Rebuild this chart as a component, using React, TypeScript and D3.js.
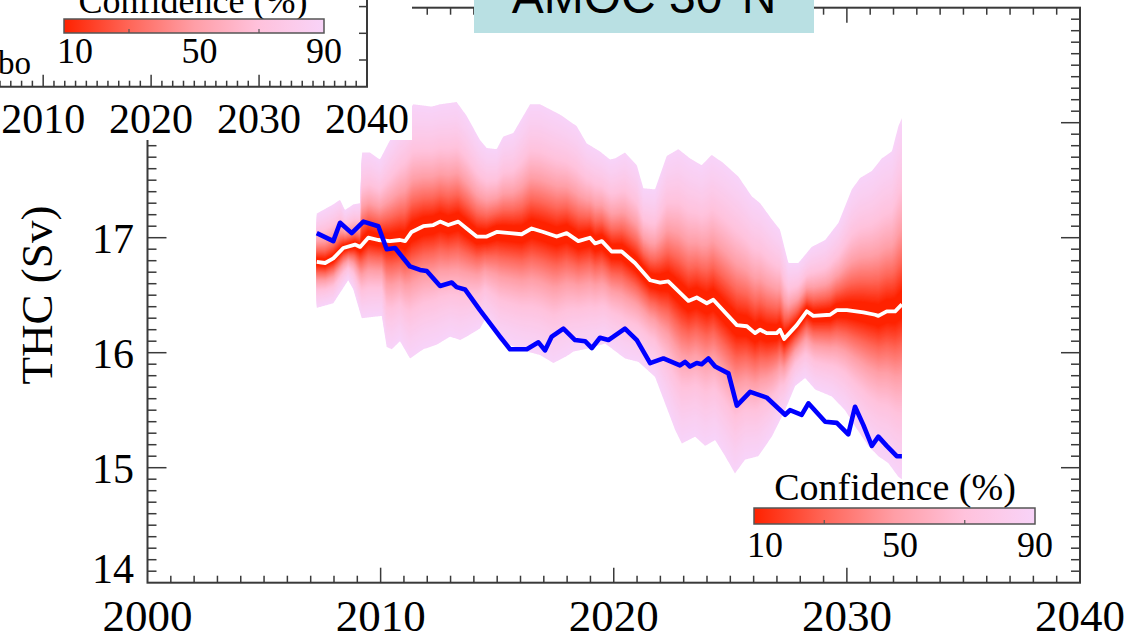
import * as d3 from 'd3';
import React, { useRef, useEffect } from 'react';

const W = 1143;
const H = 642;

// observed THC (blue line)
const obsYears = [2007.26, 2007.97, 2008.26, 2008.76, 2009.26, 2009.9, 2010.26, 2010.62, 2011.26, 2011.69, 2011.98, 2012.55, 2013.05, 2013.26, 2013.62, 2014.26, 2015.12, 2015.55, 2016.27, 2016.77, 2017.05, 2017.34, 2017.84, 2018.34, 2018.77, 2019.06, 2019.41, 2019.77, 2020.48, 2020.99, 2021.56, 2022.13, 2022.84, 2023.06, 2023.27, 2023.56, 2023.77, 2024.06, 2024.35, 2024.92, 2025.28, 2025.85, 2026.56, 2027.35, 2027.56, 2028.06, 2028.35, 2029.07, 2029.57, 2030.06, 2030.35, 2030.71, 2031.07, 2031.35, 2031.71, 2032.14, 2032.36];
const obsValues = [17.04, 16.97, 17.13, 17.04, 17.14, 17.1, 16.9, 16.91, 16.75, 16.72, 16.71, 16.58, 16.61, 16.57, 16.55, 16.37, 16.14, 16.03, 16.03, 16.09, 16.02, 16.14, 16.21, 16.11, 16.1, 16.04, 16.13, 16.11, 16.21, 16.11, 15.91, 15.95, 15.89, 15.92, 15.88, 15.91, 15.9, 15.95, 15.88, 15.82, 15.54, 15.66, 15.61, 15.46, 15.5, 15.46, 15.56, 15.4, 15.39, 15.29, 15.53, 15.37, 15.19, 15.27, 15.19, 15.1, 15.1];

// forecast median (white line)
const medYears = [2007.26, 2007.62, 2007.97, 2008.4, 2008.9, 2009.12, 2009.47, 2009.9, 2010.4, 2010.83, 2011.05, 2011.33, 2011.83, 2012.26, 2012.55, 2012.9, 2013.33, 2013.69, 2014.12, 2014.55, 2014.98, 2015.55, 2016.05, 2016.48, 2016.98, 2017.55, 2017.98, 2018.48, 2018.98, 2019.2, 2019.49, 2019.91, 2020.34, 2020.91, 2021.56, 2021.99, 2022.34, 2023.2, 2023.56, 2023.99, 2024.27, 2025.28, 2025.71, 2026.06, 2026.28, 2026.56, 2026.99, 2027.13, 2027.31, 2027.85, 2028.28, 2028.56, 2029.28, 2029.57, 2030.0, 2030.71, 2031.21, 2031.35, 2031.71, 2032.07, 2032.36];
const medValues = [16.79, 16.78, 16.82, 16.91, 16.94, 16.92, 17.0, 16.98, 16.97, 16.98, 16.97, 17.05, 17.1, 17.11, 17.14, 17.11, 17.14, 17.08, 17.01, 17.01, 17.05, 17.04, 17.03, 17.08, 17.05, 17.01, 17.04, 16.97, 17.0, 16.95, 16.97, 16.88, 16.88, 16.78, 16.63, 16.61, 16.62, 16.45, 16.48, 16.43, 16.46, 16.24, 16.23, 16.17, 16.2, 16.17, 16.17, 16.2, 16.12, 16.24, 16.36, 16.32, 16.33, 16.37, 16.37, 16.35, 16.33, 16.32, 16.36, 16.36, 16.42];

// 90% confidence, upper edge
const upYears = [2007.26, 2007.97, 2008.26, 2008.47, 2008.83, 2009.12, 2009.19, 2009.54, 2009.97, 2010.33, 2010.83, 2011.4, 2012.19, 2012.55, 2013.26, 2013.69, 2014.26, 2014.55, 2014.98, 2015.26, 2015.69, 2016.41, 2016.84, 2017.7, 2018.41, 2018.84, 2019.41, 2019.84, 2020.06, 2020.48, 2020.99, 2021.27, 2021.77, 2022.27, 2022.77, 2023.27, 2023.77, 2024.2, 2024.7, 2025.35, 2025.92, 2026.28, 2026.78, 2027.13, 2027.49, 2027.92, 2028.49, 2029.07, 2029.64, 2030.21, 2030.57, 2031.07, 2031.5, 2031.93, 2032.21, 2032.36];
const upValues = [17.21, 17.29, 17.33, 17.24, 17.29, 17.3, 17.74, 17.74, 17.68, 17.82, 18.0, 18.16, 18.14, 18.16, 18.18, 18.06, 17.85, 17.78, 17.77, 17.88, 17.91, 18.16, 18.16, 18.07, 17.97, 17.82, 17.75, 17.68, 17.69, 17.74, 17.63, 17.43, 17.42, 17.71, 17.77, 17.69, 17.63, 17.72, 17.65, 17.53, 17.36, 17.3, 17.16, 17.07, 16.78, 16.78, 16.92, 16.98, 17.13, 17.42, 17.52, 17.58, 17.69, 17.75, 17.97, 18.04];

// 90% confidence, lower edge
const lowYears = [2007.26, 2007.97, 2008.61, 2008.83, 2009.19, 2010.05, 2010.26, 2010.48, 2010.83, 2011.26, 2011.83, 2012.41, 2012.98, 2013.41, 2013.69, 2014.26, 2014.48, 2015.12, 2016.27, 2016.84, 2017.41, 2017.98, 2018.27, 2018.98, 2019.63, 2020.48, 2021.06, 2021.77, 2022.2, 2022.63, 2022.92, 2023.49, 2023.92, 2024.35, 2024.78, 2025.2, 2025.63, 2026.2, 2026.78, 2027.35, 2027.78, 2028.21, 2028.64, 2029.35, 2029.92, 2030.35, 2030.92, 2031.35, 2031.78, 2032.21, 2032.36];
const lowValues = [16.39, 16.43, 16.63, 16.55, 16.3, 16.32, 16.05, 16.03, 16.1, 15.95, 16.03, 16.07, 16.14, 16.11, 16.14, 16.21, 16.29, 16.1, 16.01, 15.98, 15.91, 15.97, 16.01, 16.04, 16.08, 15.95, 15.92, 15.79, 15.56, 15.33, 15.21, 15.27, 15.19, 15.24, 15.1, 14.95, 15.07, 15.1, 15.27, 15.5, 15.71, 15.78, 15.68, 15.62, 15.5, 15.36, 15.19, 15.1, 15.04, 14.92, 14.9];

const xTickLabels = ['2000', '2010', '2020', '2030', '2040'];
const yTickLabels = ['14', '15', '16', '17'];
const confLevels = [10, 30, 50, 70, 90];
const confColors = ['#ff2200', '#ff6658', '#ff9ea6', '#ffc2dc', '#f8d3f8'];
const confLabels = ['10', '50', '90'];
const insetXLabels = ['2010', '2020', '2030', '2040'];
const title = 'AMOC 30°N';
const yTitle = 'THC (Sv)';
const legendTitle = 'Confidence (%)';

const SERIF = '"Liberation Serif", "Times New Roman", serif';
const AXIS = '#3a3a3a';

function App() {
  const ref = useRef(null);

  useEffect(() => {
    draw();
  }, []);

  const draw = () => {
    const svg = d3.select(ref.current);
    svg.selectAll('*').remove();

    const x = d3.scaleLinear().domain([2000, 2040]).range([147.5, 1080]);
    const y = d3.scaleLinear().domain([14, 19]).range([582.7, 7.7]);
    const color = d3.scaleLinear().domain(confLevels).range(confColors);

    // piecewise-linear lookup used to lay the shaded band on one grid
    const lookup = (ys, vs) => t => {
      const i = d3.bisectRight(ys, t);
      if (i <= 0) return vs[0];
      if (i >= ys.length) return vs[vs.length - 1];
      const a = ys[i - 1], b = ys[i];
      return vs[i - 1] + ((vs[i] - vs[i - 1]) * (t - a)) / (b - a);
    };
    const med = lookup(medYears, medValues);
    const up = lookup(upYears, upValues);
    const low = lookup(lowYears, lowValues);

    const t0 = medYears[0];
    const t1 = medYears[medYears.length - 1];
    const grid = d3.range(t0, t1, 0.03).concat([t1]);

    const erfinv = v => {
      const a = 0.147;
      const ln = Math.log(1 - v * v);
      const t = 2 / (Math.PI * a) + ln / 2;
      return Math.sqrt(Math.sqrt(t * t - ln / a) - t);
    };
    const zmax = erfinv(0.9);

    // confidence band, outer (90%) to inner (10%)
    const band = svg.append('g');
    d3.range(90, 9, -1).forEach(p => {
      const f = erfinv(p / 100) / zmax;
      const area = d3
        .area()
        .x(t => x(t))
        .y0(t => y(med(t) - (med(t) - low(t)) * f))
        .y1(t => y(med(t) + (up(t) - med(t)) * f));
      band.append('path').datum(grid).attr('d', area).attr('fill', color(p));
    });

    const line = (ys, vs) =>
      d3
        .line()
        .x(i => x(ys[i]))
        .y(i => y(vs[i]))(d3.range(ys.length));

    svg
      .append('path')
      .attr('d', line(medYears, medValues))
      .attr('fill', 'none')
      .attr('stroke', '#fff')
      .attr('stroke-width', 3.8)
      .attr('stroke-linejoin', 'round');

    svg
      .append('path')
      .attr('d', line(obsYears, obsValues))
      .attr('fill', 'none')
      .attr('stroke', '#0000ff')
      .attr('stroke-width', 4.6)
      .attr('stroke-linejoin', 'round');

    // frame + ticks on all four sides
    const frame = svg.append('g').attr('stroke', AXIS).attr('fill', 'none');
    frame
      .append('rect')
      .attr('x', x(2000))
      .attr('y', y(19))
      .attr('width', x(2040) - x(2000))
      .attr('height', y(14) - y(19))
      .attr('stroke-width', 2);

    d3.range(2001, 2040).forEach(yr => {
      const len = yr % 10 === 0 ? 15 : 7;
      frame.append('line').attr('x1', x(yr)).attr('x2', x(yr)).attr('y1', y(14)).attr('y2', y(14) - len).attr('stroke-width', 1.5);
      frame.append('line').attr('x1', x(yr)).attr('x2', x(yr)).attr('y1', y(19)).attr('y2', y(19) + len).attr('stroke-width', 1.5);
    });
    d3.range(141, 190).forEach(k => {
      const v = k / 10;
      const len = k % 10 === 0 ? 19 : 9;
      frame.append('line').attr('x1', x(2000)).attr('x2', x(2000) + len).attr('y1', y(v)).attr('y2', y(v)).attr('stroke-width', 1.5);
      frame.append('line').attr('x1', x(2040)).attr('x2', x(2040) - len).attr('y1', y(v)).attr('y2', y(v)).attr('stroke-width', 1.5);
    });

    // tick labels
    xTickLabels.forEach(l => {
      svg
        .append('text')
        .attr('x', x(+l))
        .attr('y', 631)
        .attr('text-anchor', 'middle')
        .attr('font-family', SERIF)
        .attr('font-size', 45)
        .text(l);
    });
    yTickLabels.forEach(l => {
      const v = +l;
      svg
        .append('text')
        .attr('x', 134)
        .attr('y', v === 14 ? y(v) : y(v) + 15)
        .attr('text-anchor', 'end')
        .attr('font-family', SERIF)
        .attr('font-size', 42)
        .text(l);
    });
    svg
      .append('text')
      .attr('transform', `translate(52,295) rotate(-90)`)
      .attr('text-anchor', 'middle')
      .attr('font-family', SERIF)
      .attr('font-size', 45)
      .text(yTitle);

    // gradient for colour bars
    const defs = svg.append('defs');
    const grad = defs.append('linearGradient').attr('id', 'conf');
    d3.range(10, 91, 5).forEach(p => {
      grad.append('stop').attr('offset', (p - 10) / 80).attr('stop-color', color(p));
    });

    const colorBar = (g, x0, x1, y0, h, titleY, labelY, titleX, titleSize, labelSize) => {
      const cb = d3.scaleLinear().domain([10, 90]).range([x0, x1]);
      const cl = d3.scaleLinear().domain([10, 90]).range([x0 + 11, x1]);
      g.append('text')
        .attr('x', titleX)
        .attr('y', titleY)
        .attr('text-anchor', 'middle')
        .attr('font-family', SERIF)
        .attr('font-size', titleSize)
        .text(legendTitle);
      g.append('rect')
        .attr('x', x0)
        .attr('y', y0)
        .attr('width', x1 - x0)
        .attr('height', h)
        .attr('fill', 'url(#conf)')
        .attr('stroke', '#555')
        .attr('stroke-width', 1.5);
      [30, 70].forEach(v => {
        g.append('line')
          .attr('x1', cb(v))
          .attr('x2', cb(v))
          .attr('y1', y0 + h)
          .attr('y2', y0 + h - 4)
          .attr('stroke', '#555')
          .attr('stroke-width', 1.2);
      });
      confLabels.forEach(l => {
        g.append('text')
          .attr('x', cl(+l))
          .attr('y', labelY)
          .attr('text-anchor', 'middle')
          .attr('font-family', SERIF)
          .attr('font-size', labelSize)
          .text(l);
      });
    };

    colorBar(svg.append('g'), 754, 1035, 508, 16, 500, 557, 895, 38, 36);

    // title box
    svg.append('rect').attr('x', 474).attr('y', -2).attr('width', 340).attr('height', 35).attr('fill', '#b9e0e3');
    svg
      .append('text')
      .attr('x', 644)
      .attr('y', 13)
      .attr('text-anchor', 'middle')
      .attr('font-family', '"Liberation Sans", Arial, sans-serif')
      .attr('font-size', 48)
      .text(title);

    // pasted inset in the top-left corner
    const inset = svg.append('g');
    inset.append('rect').attr('x', 0).attr('y', 0).attr('width', 412).attr('height', 140).attr('fill', '#fff');
    const ix = d3.scaleLinear().domain([2006, 2040]).range([0, 367]);
    const iy = d3.scaleLinear().domain([0, 1]).range([86.7, 60]);
    inset.append('path').attr('d', `M0,${iy(0)}H${ix(2040)}V0`).attr('fill', 'none').attr('stroke', AXIS).attr('stroke-width', 2);
    d3.range(2006, 2040).forEach(yr => {
      const len = yr % 10 === 0 ? 12 : 6;
      inset.append('line').attr('x1', ix(yr)).attr('x2', ix(yr)).attr('y1', iy(0)).attr('y2', iy(0) - len).attr('stroke', AXIS).attr('stroke-width', 1.5);
    });
    [1, 2, 3].forEach(v => {
      inset.append('line').attr('x1', ix(2040)).attr('x2', ix(2040) - 8).attr('y1', iy(v)).attr('y2', iy(v)).attr('stroke', AXIS).attr('stroke-width', 1.5);
    });
    insetXLabels.forEach(l => {
      inset
        .append('text')
        .attr('x', ix(+l))
        .attr('y', 133)
        .attr('text-anchor', 'middle')
        .attr('font-family', SERIF)
        .attr('font-size', 42)
        .text(l);
    });
    inset.append('text').attr('x', -2).attr('y', 74).attr('font-family', SERIF).attr('font-size', 33).text('bo');
    colorBar(inset, 64, 324, 19, 14, 13, 63, 193, 36, 36);
  };

  return (
    <div className="chart">
      <svg ref={ref} width={W} height={H} style={{ position: 'absolute', left: 0, top: 0, background: '#fff' }} />
    </div>
  );
}

export default App;
